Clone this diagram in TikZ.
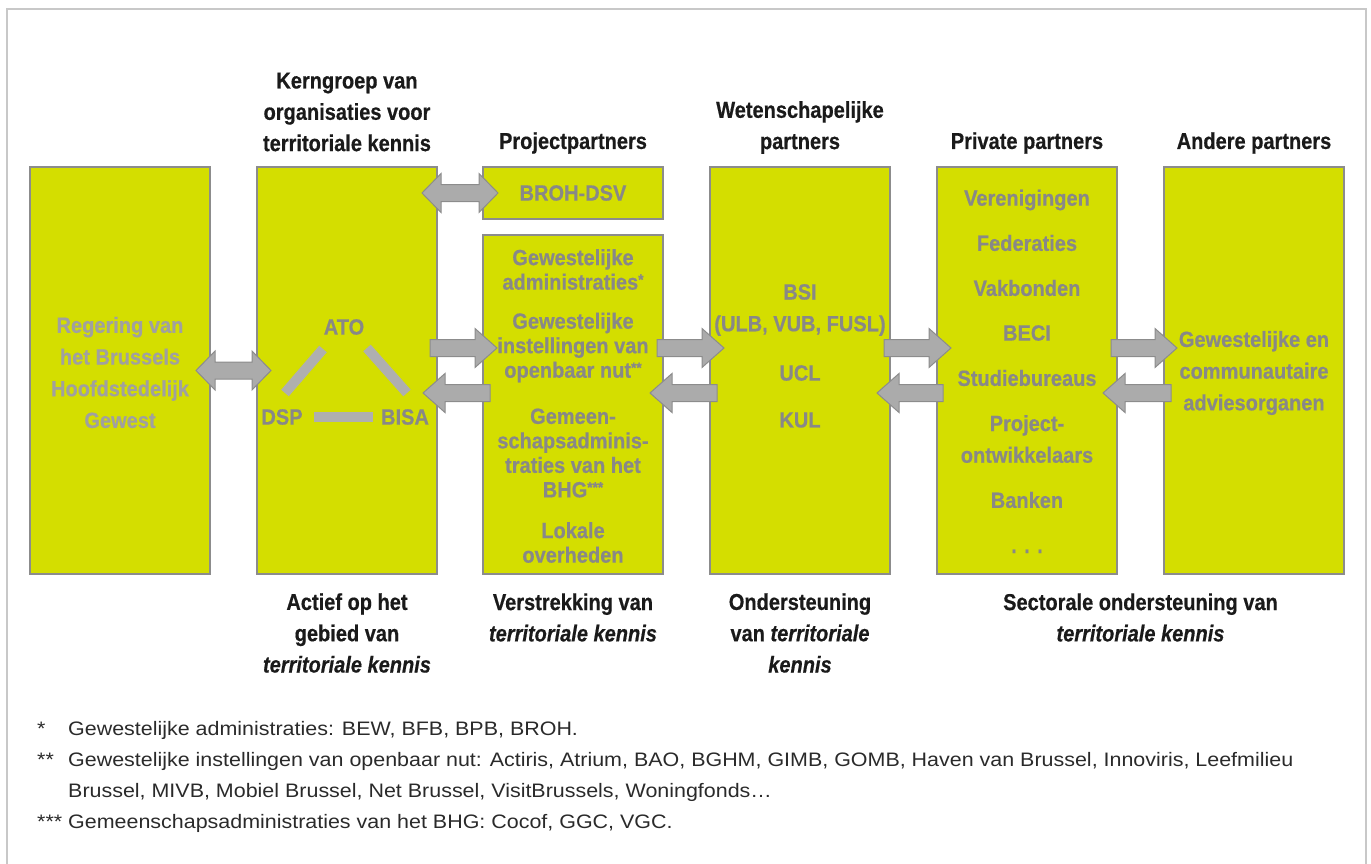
\documentclass[tikz,border=0pt]{standalone}
\usepackage{fontspec}
\setmainfont{Liberation Sans}
\newfontfamily\condA{Liberation Sans}[FakeStretch=0.87, BoldFeatures={FakeBold=0.5}, BoldItalicFeatures={FakeBold=0.5}]
\newfontfamily\condB{Liberation Sans}[FakeStretch=0.91, BoldFeatures={FakeBold=0.5}]
\newfontfamily\noteF{Liberation Sans}[FakeStretch=1.1]
\usetikzlibrary{calc}
\definecolor{boxfill}{HTML}{D4DE00}
\definecolor{boxline}{HTML}{8C8C8C}
\definecolor{boxtext}{HTML}{888888}
\definecolor{boxtextlight}{HTML}{A0A0A0}
\definecolor{arrowfill}{HTML}{ABABAB}
\definecolor{barfill}{HTML}{AFAFAF}
\definecolor{framec}{HTML}{C8C8C8}
\definecolor{titlec}{HTML}{1A1A1A}
\definecolor{notec}{HTML}{2A2A2A}
\newcommand\fstar[1]{\raisebox{0.22em}{\fontsize{15}{15}\selectfont #1}}
\newcommand\sarrow[2]{%
  \path[blk] let \p1=#1, \p2=#2, \n1={sign(\x2-\x1)} in
   (\x1,{\y1+8.5pt}) -- ({\x2-\n1*22pt},{\y1+8.5pt}) -- ({\x2-\n1*22pt},{\y1+19.5pt})
   -- (\x2,\y1) -- ({\x2-\n1*22pt},{\y1-19.5pt}) -- ({\x2-\n1*22pt},{\y1-8.5pt})
   -- (\x1,{\y1-8.5pt}) -- cycle;}
\newcommand\darrow[2]{%
  \path[blk] let \p1=#1, \p2=#2, \n1={sign(\x2-\x1)} in
   (\x1,\y1) -- ({\x1+\n1*19pt},{\y1+19.5pt}) -- ({\x1+\n1*19pt},{\y1+8.5pt})
   -- ({\x2-\n1*19pt},{\y1+8.5pt}) -- ({\x2-\n1*19pt},{\y1+19.5pt}) -- (\x2,\y1)
   -- ({\x2-\n1*19pt},{\y1-19.5pt}) -- ({\x2-\n1*19pt},{\y1-8.5pt})
   -- ({\x1+\n1*19pt},{\y1-8.5pt}) -- ({\x1+\n1*19pt},{\y1-19.5pt}) -- cycle;}
\tikzset{
  box/.style={draw=boxline, fill=boxfill, line width=1.5pt, minimum width=180pt,
    anchor=north west, inner sep=0pt, outer sep=0pt},
  blk/.style={fill=arrowfill, draw=boxline, line width=1pt, line join=miter},
  bar/.style={draw=barfill, line width=10pt, line cap=butt},
  ttl/.style={text=titlec, align=center, inner sep=0pt,
    font={\condA\bfseries\fontsize{23}{31.3}\selectfont}},
  btxt/.style={text=boxtext, align=center, inner sep=0pt,
    font={\condB\bfseries\fontsize{22}{31.7}\selectfont}},
  btxtt/.style={text=boxtext, align=center, inner sep=0pt,
    font={\condB\bfseries\fontsize{22}{24.5}\selectfont}},
  note/.style={text=notec, anchor=base west, inner sep=0pt,
    font={\noteF\fontsize{19.5}{24}\selectfont}}
}
\begin{document}
\begin{tikzpicture}[x=1pt,y=-1pt]
\useasboundingbox (0,0) rectangle (1371,864);
\draw[framec, line width=2pt] (7,880) -- (7,9) -- (1366,9) -- (1366,880);

% boxes
\node[box, minimum height=407pt] (b1) at (30,167) {};
\node[box, minimum height=407pt] (b2) at (257,167) {};
\node[box, minimum height=52pt] (b3a) at (483,167) {};
\node[box, minimum height=339pt] (b3b) at (483,235) {};
\node[box, minimum height=407pt] (b4) at (710,167) {};
\node[box, minimum height=407pt] (b5) at (937,167) {};
\node[box, minimum height=407pt] (b6) at (1164,167) {};

% titles
\node[ttl] (t2) at (347,112) {Kerngroep van\\organisaties voor\\territoriale kennis};
\node[ttl] (t3) at (573,143) {Projectpartners};
\node[ttl] (t4) at (800,127.5) {Wetenschapelijke\\partners};
\node[ttl] (t5) at (1027,143) {Private partners};
\node[ttl] (t6) at (1254,143) {Andere partners};

% bottom labels
\node[ttl] (l2) at (347,633) {Actief op het\\gebied van\\\textit{territoriale kennis}};
\node[ttl] (l3) at (573,617.5) {Verstrekking van\\\textit{territoriale kennis}};
\node[ttl] (l4) at (800,633) {Ondersteuning\\van \textit{territoriale}\\\textit{kennis}};
\node[ttl] (l5) at (1140.5,617.5) {Sectorale ondersteuning van\\\textit{territoriale kennis}};

% box 1
\node[btxt, text=boxtextlight] (x1) at (120,372.5) {Regering van\\het Brussels\\Hoofdstedelijk\\Gewest};

% box 2
\node[btxt] (ato) at (344,327) {ATO};
\node[btxt] (dsp) at (282,417) {DSP};
\node[btxt] (bisa) at (405,417) {BISA};
\draw[bar] ($(dsp)+(3,-24)$) -- ($(ato)+(-21,22)$);
\draw[bar] ($(ato)+(23,21)$) -- ($(bisa)+(2,-24)$);
\draw[bar] ($(dsp)+(32,0)$) -- ($(bisa)+(-32,0)$);

% box 3
\node[btxt] (x3a) at (573,193) {BROH-DSV};
\node[btxtt] (x3b1) at (573,269.5) {Gewestelijke\\administraties\fstar{*}};
\node[btxtt] (x3b2) at (573,347.5) {Gewestelijke\\instellingen van\\openbaar nut\fstar{**}};
\node[btxtt] (x3b3) at (573,453) {Gemeen-\\schapsadminis-\\traties van het\\BHG\fstar{***}};
\node[btxtt] (x3b4) at (573,542.5) {Lokale\\overheden};

% box 4
\node[btxt] (x4a) at (800,310) {BSI\\(ULB, VUB, FUSL)};
\node[btxt] (x4b) at (800,373) {UCL};
\node[btxt] (x4c) at (800,420) {KUL};

% box 5
\node[btxt] (x5a) at (1027,200) {Verenigingen};
\node[btxt] (x5b) at (1027,243) {Federaties};
\node[btxt] (x5c) at (1027,288) {Vakbonden};
\node[btxt] (x5d) at (1027,333) {BECI};
\node[btxt] (x5e) at (1027,378) {Studiebureaus};
\node[btxt] (x5f) at (1027,439) {Project-\\ontwikkelaars};
\node[btxt] (x5g) at (1027,500) {Banken};
\node[btxt, anchor=base] (x5h) at (1027,553) {. . .};

% box 6
\node[btxt] (x6) at (1254,373) {Gewestelijke en\\communautaire\\adviesorganen};

% arrows
\darrow{($(b1.east)+(-14,0)$)}{($(b2.west)+(14,0)$)}
\darrow{($(b2.east |- b3a.west)+(-15,0)$)}{($(b3a.west)+(15,0)$)}
\sarrow{($(b2.east)+(-7,-22.5)$)}{($(b3b.west |- b2.east)+(14,-22.5)$)}
\sarrow{($(b3b.east |- b4.west)+(-6,-22.5)$)}{($(b4.west)+(14,-22.5)$)}
\sarrow{($(b4.east)+(-6,-22.5)$)}{($(b5.west)+(14,-22.5)$)}
\sarrow{($(b5.east)+(-6,-22.5)$)}{($(b6.west)+(13,-22.5)$)}
\sarrow{($(b3b.west |- b2.east)+(7,22.5)$)}{($(b2.east)+(-14,22.5)$)}
\sarrow{($(b4.west)+(7,22.5)$)}{($(b3b.east |- b4.west)+(-13,22.5)$)}
\sarrow{($(b5.west)+(6,22.5)$)}{($(b4.east)+(-13,22.5)$)}
\sarrow{($(b6.west)+(7,22.5)$)}{($(b5.east)+(-14,22.5)$)}

% footnotes
\node[note] (s1) at (37,735) {*};
\node[note] (f1) at (68,735) {Gewestelijke administraties: BEW, BFB, BPB, BROH.};
\node[note] (s2) at (37,766.5) {**};
\node[note] (f2) at (68,766.5) {Gewestelijke instellingen van openbaar nut: Actiris, Atrium, BAO, BGHM, GIMB, GOMB, Haven van Brussel, Innoviris, Leefmilieu};
\node[note] (f3) at (68,797) {Brussel, MIVB, Mobiel Brussel, Net Brussel, VisitBrussels, Woningfonds…};
\node[note] (s3) at (37,828) {***};
\node[note] (f4) at (68,828) {Gemeenschapsadministraties van het BHG: Cocof, GGC, VGC.};
\end{tikzpicture}
\end{document}
